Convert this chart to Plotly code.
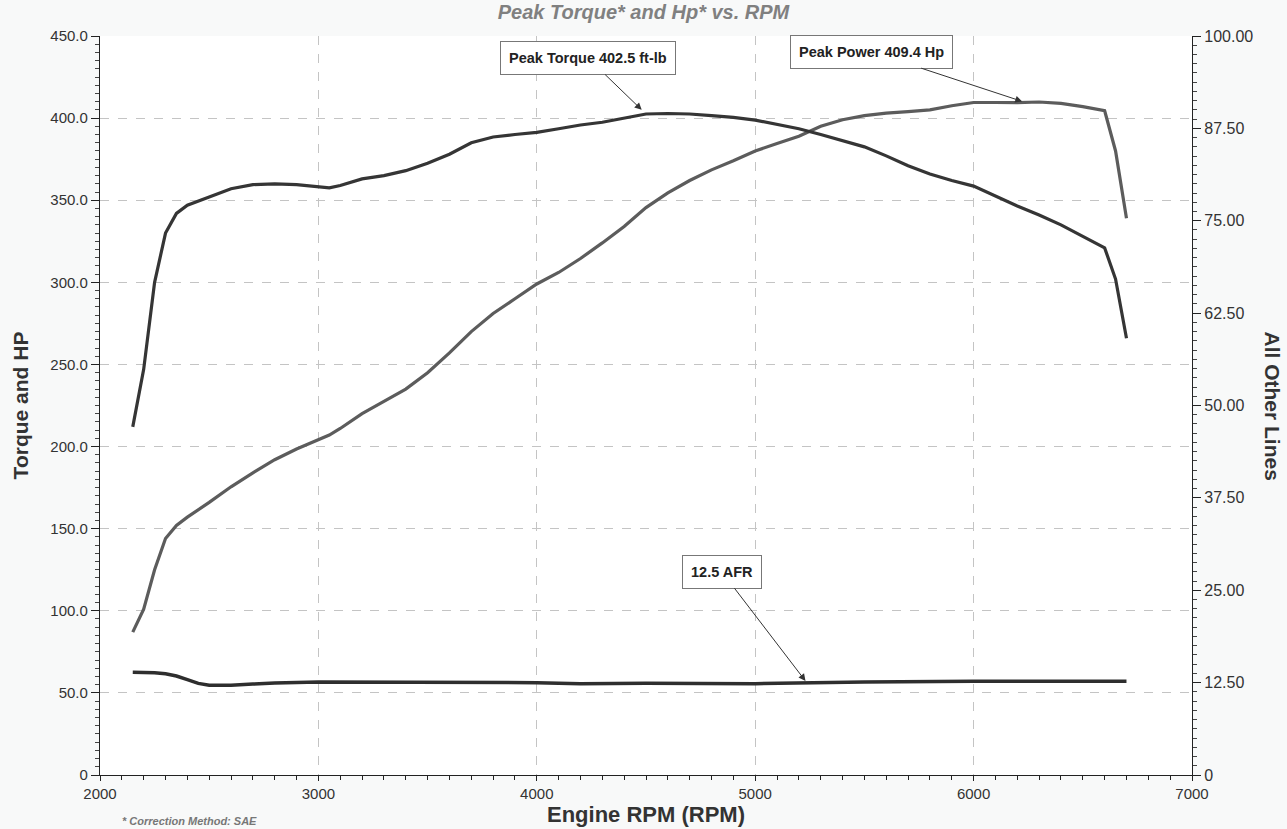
import plotly.graph_objects as go

rpm = [2150, 2200, 2250, 2300, 2350, 2400, 2500, 2600, 2700, 2800, 2900, 3000, 3050, 3100,
       3200, 3300, 3400, 3500, 3600, 3700, 3800, 3900, 4000, 4100, 4200, 4300, 4400, 4500,
       4600, 4700, 4800, 4900, 5000, 5100, 5200, 5300, 5400, 5500, 5600, 5700, 5800, 5900,
       6000, 6100, 6200, 6300, 6400, 6500, 6600, 6650, 6700]
torque = [212, 247, 300, 330, 342, 347, 352, 357, 359.5, 360, 359.5, 358, 357.5, 359,
          363, 365, 368, 372.5, 378, 385, 388.5, 390, 391.3, 393.5, 395.8, 397.5, 400, 402.5,
          402.8, 402.5, 401.5, 400.5, 398.8, 396, 393.5, 390, 386.5, 382.5, 377, 371, 366, 362,
          358.6, 352.5, 346.5, 341, 335, 328, 321, 302, 266]
hp = [87, 101, 125, 144, 152, 157, 166, 175.5, 184, 192, 198.5, 204, 207, 211,
      220, 227.5, 235, 245, 257, 270, 281, 290, 299, 306, 314.5, 324, 334, 345.5,
      354.5, 362, 368.5, 374, 380, 384.5, 389, 395, 399, 401.5, 403, 404, 405, 407.5,
      409.5, 409.5, 409.4, 409.8, 409, 407, 404.5, 380, 339]

afr_rpm = [2150, 2250, 2300, 2350, 2400, 2450, 2500, 2600, 2700, 2800, 3000, 3500, 4000,
           4200, 4500, 5000, 5250, 5500, 6000, 6500, 6700]
afr = [13.9, 13.85, 13.7, 13.4, 12.9, 12.4, 12.15, 12.15, 12.3, 12.45, 12.6, 12.6, 12.5,
       12.35, 12.4, 12.35, 12.5, 12.6, 12.7, 12.7, 12.7]

left_ticks = [0, 50, 100, 150, 200, 250, 300, 350, 400, 450]
left_labels = ["0", "50.0", "100.0", "150.0", "200.0", "250.0", "300.0", "350.0", "400.0", "450.0"]
right_ticks = [0, 12.5, 25, 37.5, 50, 62.5, 75, 87.5, 100]
right_labels = ["0", "12.50", "25.00", "37.50", "50.00", "62.50", "75.00", "87.50", "100.00"]
x_ticks = [2000, 3000, 4000, 5000, 6000, 7000]

fig = go.Figure()
fig.add_trace(go.Scatter(x=rpm, y=hp, mode="lines", line=dict(color="#5c5c5c", width=3.2),
                         name="HP", showlegend=False))
fig.add_trace(go.Scatter(x=rpm, y=torque, mode="lines", line=dict(color="#353535", width=3.2),
                         name="Torque", showlegend=False))
fig.add_trace(go.Scatter(x=afr_rpm, y=afr, mode="lines", line=dict(color="#2e2e2e", width=3.5),
                         name="AFR", yaxis="y2", showlegend=False))

tickfont = dict(family="Arial", size=15, color="#333333")

fig.update_layout(
    width=1287, height=829,
    margin=dict(l=100, r=95, t=36, b=54, autoexpand=False),
    paper_bgcolor="#f8f9f9", plot_bgcolor="#ffffff",
    title=dict(text="Peak Torque* and Hp* vs. RPM", x=0.5, xanchor="center", y=0.985, yanchor="middle",
               font=dict(family="Arial", size=20, color="#808080", weight="bold", style="italic")),
    xaxis=dict(range=[2000, 7000], tickvals=x_ticks, ticktext=[str(v) for v in x_ticks],
               showline=True, linecolor="#222", linewidth=1.2, mirror=False,
               ticks="outside", ticklen=5, tickcolor="#222",
               minor=dict(dtick=100, ticks="outside", ticklen=4, tickcolor="#222", showgrid=False),
               showgrid=True, gridcolor="#c4c4c4", griddash="dash", gridwidth=1,
               tickfont=tickfont, zeroline=False,
               title=dict(text="Engine RPM (RPM)", standoff=4,
                          font=dict(family="Arial", size=22, color="#333", weight="bold"))),
    yaxis=dict(range=[0, 450], tickvals=left_ticks, ticktext=left_labels,
               showline=True, linecolor="#222", linewidth=1.2,
               ticks="outside", ticklen=8, tickcolor="#222",
               minor=dict(dtick=5, ticks="outside", ticklen=4, tickcolor="#444", showgrid=False),
               showgrid=True, gridcolor="#c4c4c4", griddash="dash", gridwidth=1,
               tickfont=tickfont, zeroline=False,
               title=dict(text="Torque and HP", standoff=16,
                          font=dict(family="Arial", size=21, color="#333", weight="bold"))),
    yaxis2=dict(range=[0, 100], overlaying="y", side="right", tickvals=right_ticks, ticktext=right_labels,
                showline=True, linecolor="#222", linewidth=1.2,
                ticks="outside", ticklen=8, tickcolor="#222",
                minor=dict(dtick=1.25, ticks="outside", ticklen=4, tickcolor="#444", showgrid=False),
                showgrid=False, zeroline=False,
                tickfont=dict(family="Arial", size=16, color="#333333")),
)

boxstyle = dict(font=dict(family="Arial", size=14.5, color="#222", weight="bold"),
                bgcolor="#ffffff", bordercolor="#777", borderwidth=1, borderpad=8,
                showarrow=True, arrowhead=2, arrowsize=1.4, arrowwidth=1, arrowcolor="#333",
                axref="pixel", ayref="pixel")

fig.add_annotation(x=4500, y=402.5, text="Peak Torque 402.5 ft-lb", ax=-58, ay=-56, standoff=6, **boxstyle)
fig.add_annotation(x=6240, y=409.4, text="Peak Power 409.4 Hp", ax=-155, ay=-51, standoff=4, **boxstyle)
fig.add_annotation(x=5236, y=12.5, yref="y2", text="12.5 AFR", ax=-85, ay=-111, standoff=2, **boxstyle)

fig.add_annotation(x=1.0, xref="paper", xanchor="center", xshift=80, y=0.5, yref="paper",
                   text="All Other Lines", textangle=90, showarrow=False,
                   font=dict(family="Arial", size=21, color="#333", weight="bold"))
fig.add_annotation(x=0.0, xref="paper", xanchor="left", xshift=20, y=0.0, yref="paper", yanchor="top",
                   yshift=-38, text="* Correction Method: SAE", showarrow=False,
                   font=dict(family="Arial", size=11, color="#777", weight="bold", style="italic"))

fig.write_html("out.html", config={"displayModeBar": False},
               post_script="document.body.style.margin='0';document.body.style.overflow='hidden';")
